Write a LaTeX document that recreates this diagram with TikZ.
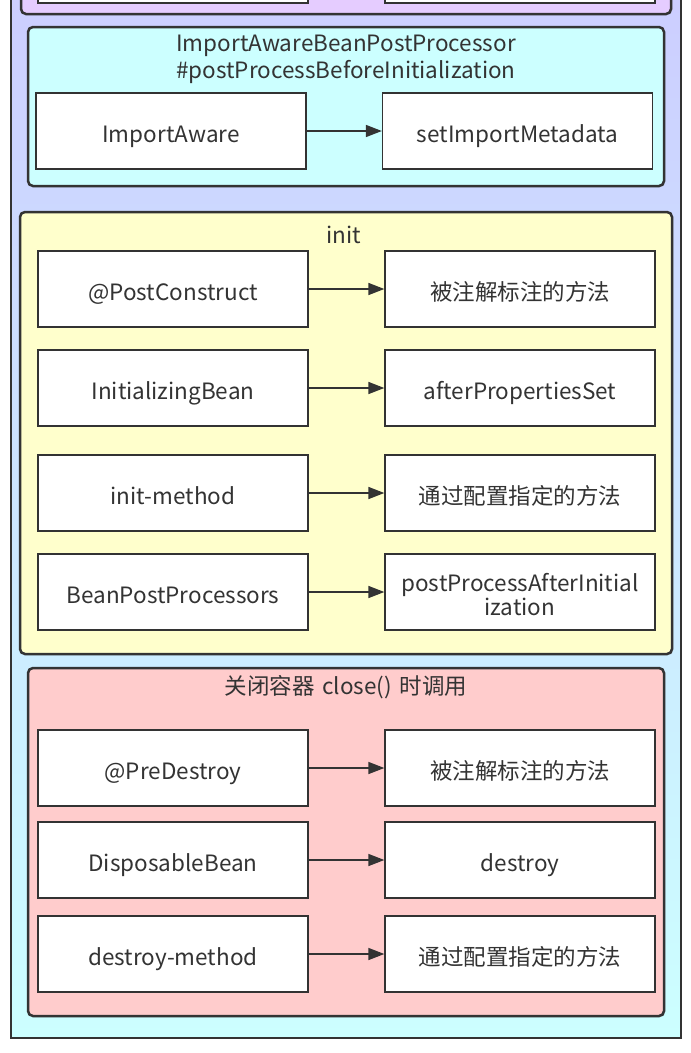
\documentclass[tikz,border=0pt]{standalone}
\usepackage{fontspec}
\setmainfont{Noto Sans CJK SC}
\usetikzlibrary{arrows.meta,shadows}
\definecolor{txt}{HTML}{333333}
\definecolor{lav}{HTML}{CCCCFF}
\definecolor{aqua}{HTML}{CCFFFF}
\definecolor{grpurple}{HTML}{E5CCFF}
\definecolor{grcyan}{HTML}{CCFFFF}
\definecolor{gryellow}{HTML}{FFFFCC}
\definecolor{grred}{HTML}{FFCCCC}
\begin{document}
\begin{tikzpicture}[x=1pt,y=-1pt,
  outerframe/.style={draw=txt, line width=2.5pt},
  grp/.style={draw=txt, line width=2.5pt, rounded corners=5pt,
    drop shadow={shadow xshift=1.2pt, shadow yshift=-1.2pt, opacity=0.35}},
  wbox/.style={draw=txt, line width=1.3pt, fill=white, minimum width=270pt,
    minimum height=76pt, inner sep=2pt, text width=264pt, align=center,
    font=\fontsize{22.5}{24}\selectfont, text=txt,
    text height=22pt, text depth=0pt},
  ttl/.style={font=\fontsize{22.5}{27}\selectfont, text=txt, align=center,
    text width=620pt, inner sep=0pt, anchor=base},
  arr/.style={-{Triangle[length=16pt,width=12pt]}, line width=1.5pt, draw=txt}]
\clip (0,0) rectangle (691,1053);
% outer frame
\shade[top color=lav, bottom color=aqua] (11,-40) rectangle (681,1038);
\draw[outerframe] (11,-40) rectangle (681,1038);
% purple group (cut off)
\draw[grp, fill=grpurple] (21,-40) rectangle (671,14);
\node[wbox, minimum height=60pt] (p1) at (173,-27) {};
\node[wbox, minimum height=60pt] (p2) at (520,-27) {};
% cyan group
\draw[grp, fill=grcyan] (28,27) rectangle (664,186);
\node[ttl] (ct) at (346,51.5) {ImportAwareBeanPostProcessor\\\#postProcessBeforeInitialization};
\node[wbox] (ia) at (171,131) {ImportAware};
\node[wbox] (sim) at (517.5,131) {setImportMetadata};
\draw[arr] (ia) -- (sim);
% yellow group
\draw[grp, fill=gryellow] (20,212) rectangle (672,654);
\node[ttl] (it) at (344,243.5) {init};
\node[wbox] (pc) at (173,289) {@PostConstruct};
\node[wbox] (pcm) at (520,289) {被注解标注的方法};
\node[wbox] (ib) at (173,388) {InitializingBean};
\node[wbox] (aps) at (520,388) {afterPropertiesSet};
\node[wbox] (im) at (173,493) {init-method};
\node[wbox] (imm) at (520,493) {通过配置指定的方法};
\node[wbox] (bpp) at (173,592) {BeanPostProcessors};
\node[wbox, text height=22pt, text depth=24pt] (ppa) at (520,592) {postProcessAfterInitial\\ization};
\draw[arr] (pc) -- (pcm);
\draw[arr] (ib) -- (aps);
\draw[arr] (im) -- (imm);
\draw[arr] (bpp) -- (ppa);
% red group
\draw[grp, fill=grred] (28,668) rectangle (664,1016);
\node[ttl] (rt) at (346,694) {关闭容器 close() 时调用};
\node[wbox] (pd) at (173,768) {@PreDestroy};
\node[wbox] (pdm) at (520,768) {被注解标注的方法};
\node[wbox] (db) at (173,860) {DisposableBean};
\node[wbox] (dst) at (520,860) {destroy};
\node[wbox] (dm) at (173,954) {destroy-method};
\node[wbox] (dmm) at (520,954) {通过配置指定的方法};
\draw[arr] (pd) -- (pdm);
\draw[arr] (db) -- (dst);
\draw[arr] (dm) -- (dmm);
\end{tikzpicture}
\end{document}
